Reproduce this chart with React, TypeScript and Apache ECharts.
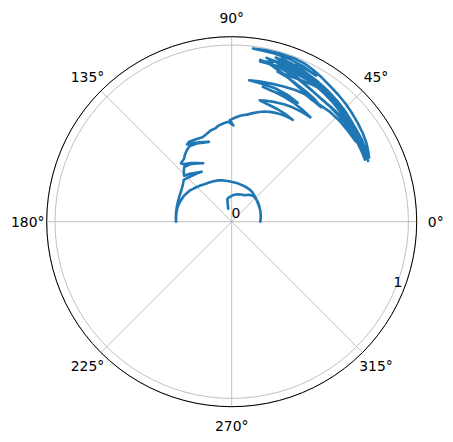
import React, { useEffect, useRef } from "react";
import * as echarts from "echarts";

// trajectory, in drawing order, as [angle in degrees, radius]
const innerHook: number[][] = [
  [105, 0.076], [103, 0.1], [101, 0.13], [97, 0.138], [93, 0.142], [86, 0.152], [79, 0.158], [71, 0.163], [64, 0.166],
  [58, 0.18], [51, 0.19], [44, 0.189], [37, 0.185], [30, 0.18], [22, 0.174], [15, 0.17], [8, 0.166], [0, 0.162],
];
const spiralArc: number[][] = [
  [6, 0.165], [14, 0.169], [22, 0.174], [30, 0.178], [38, 0.184], [47, 0.194], [56, 0.205], [62, 0.209], [68, 0.212], [74, 0.215],
  [80, 0.219], [86, 0.223], [92, 0.228], [98, 0.234], [103, 0.24], [108, 0.246], [114, 0.25], [120, 0.256],
  [126, 0.262], [130, 0.27], [135, 0.278], [139, 0.286], [143, 0.295], [148, 0.302], [152, 0.308], [157, 0.312],
  [161, 0.315], [166, 0.317], [170, 0.317], [175, 0.316], [180, 0.315],
];
const leftRise: number[][] = [
  [176, 0.317], [171, 0.319], [166, 0.321], [162, 0.323], [158, 0.326], [153, 0.33], [148, 0.336], [143, 0.346],
  [139, 0.36], [133, 0.348], [126, 0.337], [121, 0.33], [126, 0.343], [131, 0.36], [136, 0.375],
  [134, 0.39], [131, 0.41], [126, 0.402], [121, 0.385], [116, 0.368], [120, 0.384], [125, 0.405], [130, 0.425],
  [131, 0.438], [127, 0.447], [125, 0.462], [122, 0.478], [119, 0.49], [114, 0.484], [110, 0.476], [106, 0.47],
  [110, 0.48], [115, 0.493], [120, 0.505], [118, 0.512], [113, 0.508], [109, 0.506], [106, 0.516], [103, 0.53],
  [100, 0.536], [98, 0.548], [95, 0.558], [92, 0.566], [89, 0.545], [91, 0.575], [88, 0.59], [85, 0.603],
  [82, 0.612], [79, 0.626],
];
const outerStrokes: number[][] = [
  [76, 0.64], [73, 0.652], [70, 0.66], [67, 0.666], [64, 0.67], [61, 0.672], [59, 0.672],
  [63, 0.68], [68, 0.688], [73, 0.695], [77, 0.705],
  [74, 0.712], [70, 0.72], [66, 0.727], [62, 0.733], [58, 0.736], [55, 0.738], [53, 0.74],
  [57, 0.748], [62, 0.758], [67, 0.766], [72, 0.774], [77, 0.783],
  [73, 0.774], [68, 0.777], [64, 0.773], [61, 0.77],
  [66, 0.784], [72, 0.794], [78, 0.8], [83, 0.806],
  [79, 0.81], [74, 0.813], [69, 0.82], [64, 0.828], [60, 0.832], [56, 0.826], [52, 0.822],
  [56, 0.838], [61, 0.85], [65, 0.862], [69, 0.876], [73, 0.888],
  [69, 0.886], [64, 0.892], [59, 0.9], [55, 0.905],
  [61, 0.91], [67, 0.915], [73, 0.918], [80, 0.921],
  [76, 0.935], [72, 0.948], [68, 0.957], [64, 0.96], [60, 0.955],
  [65, 0.968], [70, 0.976], [76, 0.982], [83, 0.987],
  [79, 0.99], [74, 0.99], [69, 0.99], [65, 0.985], [62, 0.976],
];
const band: number[][] = [
  [58, 0.962], [54, 0.948], [50, 0.938], [46, 0.928], [42, 0.917], [38, 0.906], [34, 0.895], [30, 0.882], [27, 0.868], [25, 0.858],
  [28, 0.862], [32, 0.87], [37, 0.878], [42, 0.886], [47, 0.893], [52, 0.902], [57, 0.914], [62, 0.928], [67, 0.942], [72, 0.955], [75, 0.962],
  [71, 0.946], [67, 0.935], [63, 0.922], [59, 0.91], [55, 0.9], [51, 0.89], [47, 0.879], [43, 0.868], [39, 0.858], [35, 0.85], [31, 0.843], [28, 0.838], [25, 0.832],
  [28, 0.836], [32, 0.84], [36, 0.845], [41, 0.85], [46, 0.853], [50, 0.857], [55, 0.862], [60, 0.875], [65, 0.895], [70, 0.918], [74, 0.935], [78, 0.948],
  [74, 0.94], [70, 0.932], [66, 0.922], [62, 0.912], [58, 0.903], [54, 0.895], [50, 0.886], [46, 0.876], [42, 0.866], [38, 0.858], [34, 0.854], [30, 0.852], [27, 0.848],
  [30, 0.858], [34, 0.868], [39, 0.882], [44, 0.896], [49, 0.908], [54, 0.92], [59, 0.932], [64, 0.944], [69, 0.956], [73, 0.965],
  [69, 0.952], [64, 0.94], [59, 0.926], [55, 0.914], [51, 0.903], [47, 0.892], [43, 0.88], [39, 0.87], [35, 0.862], [31, 0.856], [29, 0.872],
  [33, 0.836], [38, 0.835], [43, 0.836], [48, 0.834], [53, 0.828], [57, 0.825], [61, 0.84], [66, 0.862], [71, 0.888], [76, 0.915], [80, 0.93],
  [76, 0.922], [71, 0.907], [66, 0.893], [62, 0.88], [58, 0.868], [53, 0.86], [48, 0.858], [43, 0.86], [38, 0.862], [33, 0.858], [28, 0.85], [24, 0.845],
];

const angleTicks: number[] = [0, 45, 90, 135, 180, 225, 270, 315];
const angleTickLabels: string[] = ["0°", "45°", "90°", "135°", "180°", "225°", "270°", "315°"];
const radiusTickLabels: string[] = ["0", "1"];

const W = 453;
const H = 442;
const CX = 231.7;
const CY = 221.7;
const OUTER = 185;
const RMAX = 1.047;

export default function App() {
  const ref = useRef<HTMLDivElement>(null);
  useEffect(() => {
    if (!ref.current) return;
    const chart = echarts.init(ref.current, null, { renderer: "svg" });
    const path = [...innerHook, ...spiralArc, ...leftRise, ...outerStrokes, ...band];
    const data = path.map(([t, r]) => [r, t]);
    const font = "DejaVu Sans";
    const labelR = 204;
    const txt = (text: string, x: number, y: number) => ({
      type: "text",
      x,
      y,
      style: { text, font: `13.9px "${font}"`, fill: "#000", textAlign: "center", textVerticalAlign: "middle" },
      z: 10,
    });
    const graphics: any[] = angleTicks.map((a, i) => {
      const rad = (a * Math.PI) / 180;
      return txt(angleTickLabels[i], CX + labelR * Math.cos(rad), CY - labelR * Math.sin(rad));
    });
    graphics.push(txt(radiusTickLabels[0], 236, 213));
    graphics.push(txt(radiusTickLabels[1], 398, 282));
    graphics.push({
      type: "circle",
      shape: { cx: CX, cy: CY, r: OUTER },
      style: { fill: "none", stroke: "#000", lineWidth: 1 },
      silent: true,
      z: 5,
    });
    chart.setOption({
      animation: false,
      backgroundColor: "#fff",
      polar: { center: [CX, CY], radius: OUTER },
      angleAxis: {
        type: "value",
        min: 0,
        max: 360,
        interval: 45,
        startAngle: 0,
        clockwise: false,
        axisLine: { show: false },
        axisTick: { show: false },
        axisLabel: { show: false },
        splitLine: { show: true, lineStyle: { color: "#b0b0b0", width: 0.8 } },
      },
      radiusAxis: {
        type: "value",
        min: 0,
        max: RMAX,
        interval: 1,
        axisLine: { show: false },
        axisTick: { show: false },
        axisLabel: { show: false },
        splitLine: { show: true, lineStyle: { color: "#b0b0b0", width: 0.8 } },
      },
      series: [
        {
          type: "line",
          coordinateSystem: "polar",
          data,
          showSymbol: false,
          symbol: "none",
          smooth: false,
          lineStyle: { color: "#1f77b4", width: 2.6, join: "round", cap: "round" },
          z: 3,
        },
      ],
      graphic: graphics,
    });
    return () => chart.dispose();
  }, []);
  return (
    <div
      ref={ref}
      style={{ position: "fixed", left: 0, top: 0, width: W, height: H, background: "#fff" }}
    />
  );
}
